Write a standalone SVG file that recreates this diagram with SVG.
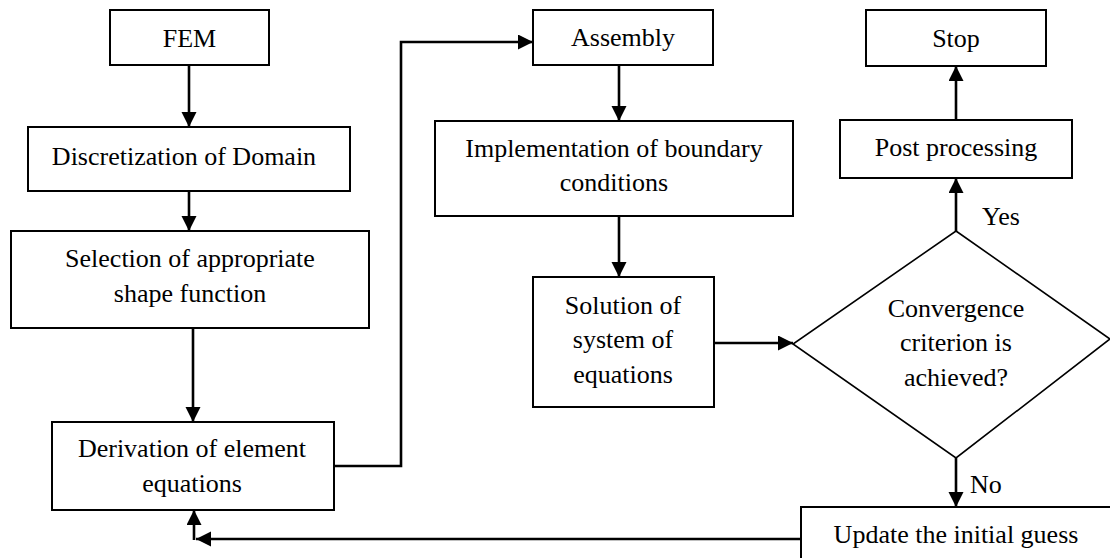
<svg xmlns="http://www.w3.org/2000/svg" width="1110" height="558" viewBox="0 0 1110 558">
  <style>
    .box { fill: #fff; stroke: #000; stroke-width: 2; }
    .dia { fill: #fff; stroke: #000; stroke-width: 1.6; }
    .lbl { font-family: "Liberation Serif", "Times New Roman", serif; font-size: 26px; fill: #000; text-anchor: middle; }
    .tag { font-family: "Liberation Serif", "Times New Roman", serif; font-size: 26px; fill: #000; }
    .wire { fill: none; stroke: #000; stroke-width: 2.6; }
  </style>
  <defs>
    <marker id="head" markerUnits="userSpaceOnUse" markerWidth="16" markerHeight="16" refX="15" refY="7.5" orient="auto">
      <path d="M0,0 L15,7.5 L0,15 z" fill="#000"/>
    </marker>
  </defs>

  <rect width="1110" height="558" fill="#fff"/>

  <g id="connectors">
    <line class="wire" x1="189" y1="65" x2="189" y2="127" marker-end="url(#head)"/>
    <line class="wire" x1="189" y1="191" x2="189" y2="231" marker-end="url(#head)"/>
    <line class="wire" x1="193" y1="328" x2="193" y2="422" marker-end="url(#head)"/>
    <path class="wire" d="M334,466 H401 V42 H533" marker-end="url(#head)"/>
    <line class="wire" x1="619" y1="65" x2="619" y2="121" marker-end="url(#head)"/>
    <line class="wire" x1="619" y1="216" x2="619" y2="277" marker-end="url(#head)"/>
    <line class="wire" x1="714" y1="343" x2="793" y2="343" marker-end="url(#head)"/>
    <line class="wire" x1="956" y1="231" x2="956" y2="178" marker-end="url(#head)"/>
    <line class="wire" x1="956" y1="120" x2="956" y2="66" marker-end="url(#head)"/>
    <line class="wire" x1="956" y1="458" x2="956" y2="507" marker-end="url(#head)"/>
    <line class="wire" x1="801" y1="539" x2="196" y2="539" marker-end="url(#head)"/>
    <line class="wire" x1="194" y1="540" x2="194" y2="510" marker-end="url(#head)"/>
  </g>

  <g id="fem">
    <rect class="box" x="110" y="10" width="159" height="55"/>
    <text class="lbl" x="189.5" y="47">FEM</text>
  </g>

  <g id="discretization">
    <rect class="box" x="28" y="127" width="322" height="64"/>
    <text class="lbl" x="184" y="165">Discretization of Domain</text>
  </g>

  <g id="selection">
    <rect class="box" x="11" y="231" width="358" height="97"/>
    <text class="lbl" x="190" y="267">Selection of appropriate</text>
    <text class="lbl" x="190" y="302">shape function</text>
  </g>

  <g id="derivation">
    <rect class="box" x="52" y="422" width="282" height="88"/>
    <text class="lbl" x="192" y="457">Derivation of element</text>
    <text class="lbl" x="192" y="492">equations</text>
  </g>

  <g id="assembly">
    <rect class="box" x="533" y="10" width="180" height="55"/>
    <text class="lbl" x="623" y="46">Assembly</text>
  </g>

  <g id="boundary">
    <rect class="box" x="435" y="121" width="358" height="95"/>
    <text class="lbl" x="614" y="157">Implementation of boundary</text>
    <text class="lbl" x="614" y="191">conditions</text>
  </g>

  <g id="solution">
    <rect class="box" x="533" y="277" width="181" height="130"/>
    <text class="lbl" x="623" y="314">Solution of</text>
    <text class="lbl" x="623" y="348">system of</text>
    <text class="lbl" x="623" y="383">equations</text>
  </g>

  <g id="convergence">
    <polygon class="dia" points="956,231 1110,339 956,458 793,344"/>
    <text class="lbl" x="956" y="317">Convergence</text>
    <text class="lbl" x="956" y="351">criterion is</text>
    <text class="lbl" x="956" y="386">achieved?</text>
  </g>

  <g id="postprocessing">
    <rect class="box" x="840" y="120" width="232" height="58"/>
    <text class="lbl" x="956" y="156">Post processing</text>
  </g>

  <g id="stop">
    <rect class="box" x="866" y="10" width="180" height="56"/>
    <text class="lbl" x="956" y="47">Stop</text>
  </g>

  <g id="update">
    <rect class="box" x="801" y="507" width="330" height="70"/>
    <text class="lbl" x="956" y="543">Update the initial guess</text>
  </g>

  <g id="branch-labels">
    <text class="tag" x="982" y="225">Yes</text>
    <text class="tag" x="970" y="493">No</text>
  </g>
</svg>
